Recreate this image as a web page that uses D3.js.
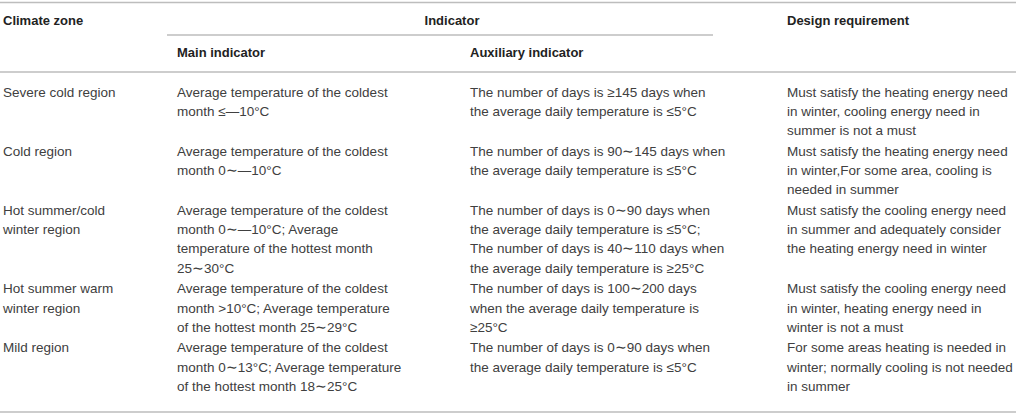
<!DOCTYPE html>
<html>
<head>
<meta charset="utf-8">
<script src="https://cdn.jsdelivr.net/npm/d3@7"></script>
<style>
  body { margin: 0; background: #fff; }
  svg { display: block; font-family: "Liberation Sans", Arial, sans-serif; }
</style>
</head>
<body>
<div id="chart"></div>
<script>
// table content, one entry per row, each cell as its printed lines
const zones = [
  ["Severe cold region"],
  ["Cold region"],
  ["Hot summer/cold", "winter region"],
  ["Hot summer warm", "winter region"],
  ["Mild region"]
];
const mainIndicators = [
  ["Average temperature of the coldest", "month \u2264\u201410\u00b0C"],
  ["Average temperature of the coldest", "month 0\u223c\u201410\u00b0C"],
  ["Average temperature of the coldest", "month 0\u223c\u201410\u00b0C; Average", "temperature of the hottest month", "25\u223c30\u00b0C"],
  ["Average temperature of the coldest", "month >10\u00b0C; Average temperature", "of the hottest month 25\u223c29\u00b0C"],
  ["Average temperature of the coldest", "month 0\u223c13\u00b0C; Average temperature", "of the hottest month 18\u223c25\u00b0C"]
];
const auxIndicators = [
  ["The number of days is \u2265145 days when", "the average daily temperature is \u22645\u00b0C"],
  ["The number of days is 90\u223c145 days when", "the average daily temperature is \u22645\u00b0C"],
  ["The number of days is 0\u223c90 days when", "the average daily temperature is \u22645\u00b0C;", "The number of days is 40\u223c110 days when", "the average daily temperature is \u226525\u00b0C"],
  ["The number of days is 100\u223c200 days", "when the average daily temperature is", "\u226525\u00b0C"],
  ["The number of days is 0\u223c90 days when", "the average daily temperature is \u22645\u00b0C"]
];
const designReqs = [
  ["Must satisfy the heating energy need", "in winter, cooling energy need in", "summer is not a must"],
  ["Must satisfy the heating energy need", "in winter,For some area, cooling is", "needed in summer"],
  ["Must satisfy the cooling energy need", "in summer and adequately consider", "the heating energy need in winter"],
  ["Must satisfy the cooling energy need", "in winter, heating energy need in", "winter is not a must"],
  ["For some areas heating is needed in", "winter; normally cooling is not needed", "in summer"]
];
const topHeaders = ["Climate zone", "Indicator", "Design requirement"];
const subHeaders = ["Main indicator", "Auxiliary indicator"];

const W = 1016, H = 416;
const lineH = 19.2, rowGap = 1.5, fs = 13.5;

const svg = d3.select("#chart").append("svg")
  .attr("width", W).attr("height", H);

const colKeys = ["zone", "main", "aux", "design"];
const x = d3.scaleOrdinal().domain(colKeys).range([3, 177, 470, 787]);

// rows stacked by number of lines
const rows = zones.map((z, i) => ({
  cells: [z, mainIndicators[i], auxIndicators[i], designReqs[i]]
}));
const nLines = rows.map(r => d3.max(r.cells, c => c.length));
const tops = [72];
nLines.forEach((n, i) => tops.push(tops[i] + n * lineH + rowGap));
rows.forEach((r, i) => r.top = tops[i]);

const rule = (x1, x2, y) => svg.append("line")
  .attr("x1", x1).attr("x2", x2).attr("y1", y).attr("y2", y)
  .attr("stroke", "#bdbdbd").attr("stroke-width", 1.6);

rule(0, W, 2.5);
rule(167, 713, 35);
rule(0, W, 72);
rule(0, W, 412);

// headers
svg.selectAll("text.top").data(topHeaders).enter().append("text")
  .attr("class", "top")
  .attr("x", (d, i) => i === 0 ? x("zone") : i === 1 ? 452 : x("design"))
  .attr("y", 25)
  .attr("text-anchor", (d, i) => i === 1 ? "middle" : "start")
  .attr("font-size", 13).attr("font-weight", "bold").attr("fill", "#222")
  .text(d => d);

svg.selectAll("text.sub").data(subHeaders).enter().append("text")
  .attr("class", "sub")
  .attr("x", (d, i) => x(i === 0 ? "main" : "aux"))
  .attr("y", 57)
  .attr("font-size", 13).attr("font-weight", "bold").attr("fill", "#222")
  .text(d => d);

// body
const rowG = svg.selectAll("g.row").data(rows).enter().append("g")
  .attr("class", "row")
  .attr("transform", d => `translate(0,${d.top})`);

rowG.selectAll("text").data(d => d.cells.map((c, j) => ({ lines: c, col: colKeys[j] })))
  .enter().append("text")
  .attr("x", d => x(d.col))
  .attr("font-size", fs).attr("fill", "#404040")
  .selectAll("tspan").data(d => d.lines.map(l => ({ l, col: d.col })))
  .enter().append("tspan")
  .attr("x", d => x(d.col))
  .attr("y", (d, k) => 24.8 + k * lineH)
  .text(d => d.l);
</script>
</body>
</html>
